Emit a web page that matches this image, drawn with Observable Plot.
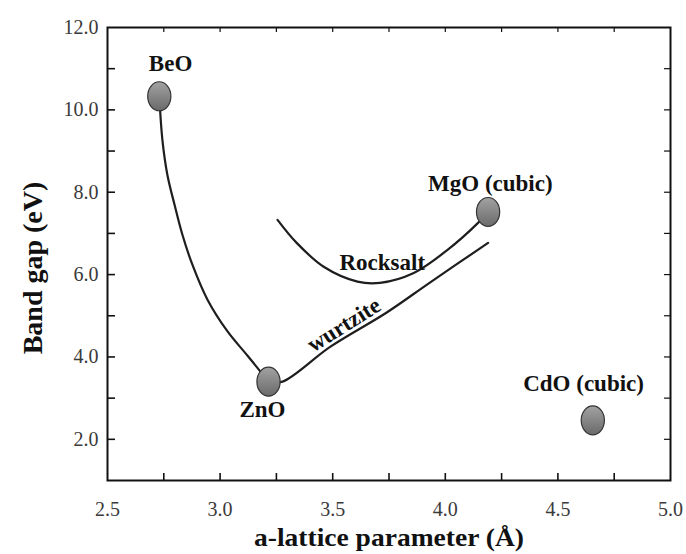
<!DOCTYPE html>
<html>
<head>
<meta charset="utf-8">
<script src="https://cdn.jsdelivr.net/npm/d3@7"></script>
<script src="https://cdn.jsdelivr.net/npm/@observablehq/plot@0.6"></script>
<style>
  html, body { margin: 0; padding: 0; background: #ffffff; }
  #chart svg { display: block; }
</style>
</head>
<body>
<div id="chart"></div>
<script>
// --- data ---
const compounds = ["BeO", "ZnO", "MgO", "CdO"];
const latticeA = [2.73, 3.215, 4.19, 4.655];
const bandGap = [10.33, 3.40, 7.52, 2.46];

const beoZnoA = [2.73, 2.744, 2.766, 2.798, 2.833, 2.877, 2.944, 3.033, 3.122, 3.215];
const beoZnoG = [10.33, 9.26, 8.42, 7.69, 6.96, 6.24, 5.39, 4.62, 4.03, 3.40];

const wurtziteA = [3.215, 3.277, 3.49, 3.74, 3.93, 4.19];
const wurtziteG = [3.40, 3.40, 4.25, 5.08, 5.80, 6.77];

const rocksaltA = [3.255, 3.34, 3.46, 3.61, 3.71, 3.86, 4.01, 4.15, 4.19];
const rocksaltG = [7.33, 6.77, 6.19, 5.83, 5.80, 6.04, 6.60, 7.28, 7.52];

const labelText = ["BeO", "ZnO", "MgO (cubic)", "CdO (cubic)", "Rocksalt"];
const labelA = [2.78, 3.188, 4.20, 4.614, 3.72];
const labelG = [11.13, 2.73, 8.22, 3.36, 6.29];

const phaseLabel = ["wurtzite"];
const phaseA = [3.55];
const phaseG = [4.78];

const xTickLabels = [2.5, 3.0, 3.5, 4.0, 4.5, 5.0];
const xMinorTicks = [2.75, 3.0, 3.25, 3.5, 3.75, 4.0, 4.25, 4.5, 4.75];
const yTickLabels = [2.0, 4.0, 6.0, 8.0, 10.0, 12.0];
const yMinorTicks = [2, 3, 4, 5, 6, 7, 8, 9, 10, 11];

const xLabel = "a-lattice parameter (Å)";
const yLabel = "Band gap (eV)";

// --- build tables ---
const points = compounds.map((c, i) => ({name: c, a: latticeA[i], g: bandGap[i]}));
const zip = (A, G) => A.map((a, i) => ({a, g: G[i]}));
const curveBZ = zip(beoZnoA, beoZnoG);
const curveW = zip(wurtziteA, wurtziteG);
const curveR = zip(rocksaltA, rocksaltG);
const labels = labelText.map((t, i) => ({t, a: labelA[i], g: labelG[i]}));
const phases = phaseLabel.map((t, i) => ({t, a: phaseA[i], g: phaseG[i]}));

const W = 686, H = 554;
const mL = 107, mR = 16, mT = 27, mB = 74;
const innerH = H - mT - mB, innerW = W - mL - mR;

const ellipse = {
  draw(ctx, size) {
    const r = Math.sqrt(size / Math.PI);
    const rx = 0.8 * r, ry = r, k = 0.5523;
    ctx.moveTo(rx, 0);
    ctx.bezierCurveTo(rx, k * ry, k * rx, ry, 0, ry);
    ctx.bezierCurveTo(-k * rx, ry, -rx, k * ry, -rx, 0);
    ctx.bezierCurveTo(-rx, -k * ry, -k * rx, -ry, 0, -ry);
    ctx.bezierCurveTo(k * rx, -ry, rx, -k * ry, rx, 0);
    ctx.closePath();
  }
};

const serif = "Liberation Serif, Times New Roman, serif";
const lineStyle = {x: "a", y: "g", curve: "catmull-rom", stroke: "#1e1e1e", strokeWidth: 2.2};

const plot = Plot.plot({
  width: W, height: H,
  marginLeft: mL, marginRight: mR, marginTop: mT, marginBottom: mB,
  style: {background: "#ffffff", fontFamily: serif},
  x: {domain: [2.5, 5.0]},
  y: {domain: [1.0, 12.0]},
  marks: [
    Plot.axisX({ticks: xTickLabels, tickSize: 0, tickPadding: 21, tickFormat: d3.format(".1f"),
      fontSize: 20, fill: "#3a3a3a", fontFamily: serif, label: null}),
    Plot.axisY({ticks: yTickLabels, tickSize: 0, tickPadding: 9, tickFormat: d3.format(".1f"),
      fontSize: 20, fill: "#3a3a3a", fontFamily: serif, label: null}),
    Plot.tickX(xMinorTicks, {x: d => d, insetTop: innerH - 7, stroke: "#111", strokeWidth: 1.6}),
    Plot.tickX(xMinorTicks, {x: d => d, insetBottom: innerH - 5, stroke: "#111", strokeWidth: 1.2}),
    Plot.tickY(yMinorTicks, {y: d => d, insetRight: innerW - 8, stroke: "#111", strokeWidth: 1.6}),
    Plot.tickY(yMinorTicks, {y: d => d, insetLeft: innerW - 6, stroke: "#111", strokeWidth: 1.2}),
    Plot.frame({stroke: "#111", strokeWidth: 2}),
    Plot.line(curveBZ, lineStyle),
    Plot.line(curveW, lineStyle),
    Plot.line(curveR, lineStyle),
    Plot.dot(points, {x: "a", y: "g", r: 14.5, symbol: ellipse, fill: "url(#ballGrad)", stroke: "#333", strokeWidth: 1.2}),
    Plot.text(labels, {x: "a", y: "g", text: "t", fontSize: 23, fontWeight: "bold", fontFamily: serif, fill: "#111"}),
    Plot.text(phases, {x: "a", y: "g", text: "t", fontSize: 23, fontWeight: "bold", fontFamily: serif, fill: "#111", rotate: -32}),
    Plot.text([xLabel], {frameAnchor: "bottom", dy: 65, text: d => d, fontSize: 25, fontWeight: "bold", fontFamily: serif, fill: "#111", className: "xlab"}),
    Plot.text([yLabel], {frameAnchor: "left", textAnchor: "middle", dx: -74, dy: 14, rotate: -90, text: d => d, fontSize: 28, fontWeight: "bold", fontFamily: serif, fill: "#111"})
  ]
});

// gradient for the markers
const ns = "http://www.w3.org/2000/svg";
const defs = document.createElementNS(ns, "defs");
defs.innerHTML = `<linearGradient id="ballGrad" x1="0" y1="0" x2="0" y2="1">
  <stop offset="0" stop-color="#a2a2a2"/><stop offset="1" stop-color="#6a6a6a"/></linearGradient>`;
plot.insertBefore(defs, plot.firstChild);

// stretch x-axis title like the reference
const xt = plot.querySelector(".xlab text");
if (xt) { xt.setAttribute("textLength", 270); xt.setAttribute("lengthAdjust", "spacingAndGlyphs"); }

document.getElementById("chart").appendChild(plot);
</script>
</body>
</html>
